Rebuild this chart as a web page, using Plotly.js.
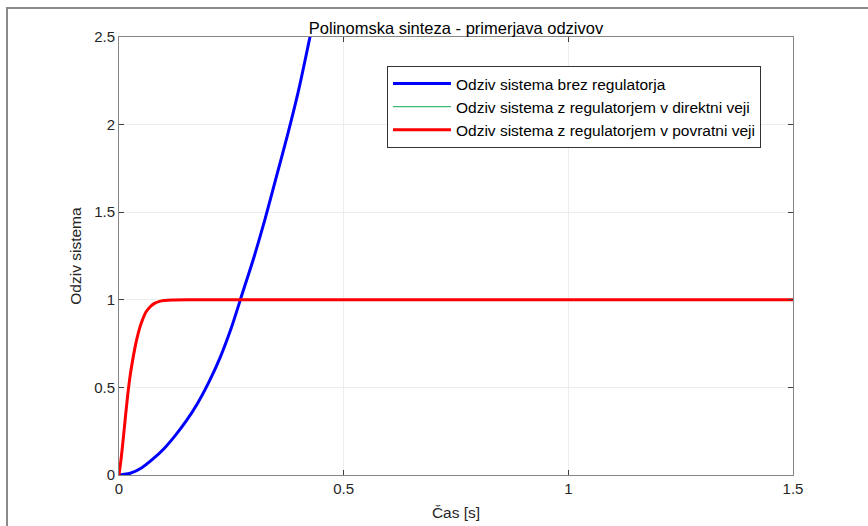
<!DOCTYPE html>
<html><head><meta charset="utf-8">
<script src="https://cdn.plot.ly/plotly-3.0.1.min.js"></script>
<style>
html,body{margin:0;padding:0;background:#fff;overflow:hidden}
#frame{position:absolute;left:6px;top:7px;width:880px;height:540px;border-top:2px solid #8a8a8a;border-left:2px solid #8a8a8a;pointer-events:none}
</style>
</head><body>
<div id="chart" style="width:868px;height:526px"></div>
<div id="frame"></div>
<script>
// Blue: response without controller
var tBlue = [0, 0.025, 0.05, 0.075, 0.1, 0.125, 0.15, 0.175, 0.2, 0.225, 0.25, 0.275, 0.3, 0.325, 0.35, 0.375, 0.4, 0.425, 0.45];
var yBlue = [0, 0.01, 0.04, 0.09, 0.15, 0.225, 0.31, 0.41, 0.53, 0.67, 0.84, 1.04, 1.24, 1.46, 1.7, 1.94, 2.2, 2.5, 2.8];
// Green: controller in forward path (hidden under red)
var tGreen = [0, 0.005, 0.01, 0.015, 0.02, 0.025, 0.03, 0.035, 0.04, 0.045, 0.05, 0.06, 0.07, 0.08, 0.09, 0.1, 0.12, 0.15, 0.2, 0.5, 1.0, 1.5];
var yGreen = [0, 0.1, 0.22, 0.35, 0.47, 0.57, 0.65, 0.72, 0.78, 0.83, 0.87, 0.93, 0.962, 0.981, 0.991, 0.996, 0.999, 1.0, 1.0, 1.0, 1.0, 1.0];
// Red: controller in feedback path
var tRed = [0, 0.005, 0.01, 0.015, 0.02, 0.025, 0.03, 0.035, 0.04, 0.045, 0.05, 0.06, 0.07, 0.08, 0.09, 0.1, 0.12, 0.15, 0.2, 0.5, 1.0, 1.5];
var yRed = [0, 0.1, 0.22, 0.35, 0.47, 0.57, 0.65, 0.72, 0.78, 0.83, 0.87, 0.93, 0.962, 0.981, 0.991, 0.996, 0.999, 1.0, 1.0, 1.0, 1.0, 1.0];

var names = ['Odziv sistema brez regulatorja', 'Odziv sistema z regulatorjem v direktni veji', 'Odziv sistema z regulatorjem v povratni veji'];
var xTicks = [0, 0.5, 1, 1.5];
var xTickText = ['0', '0.5', '1', '1.5'];
var yTicks = [0, 0.5, 1, 1.5, 2, 2.5];
var yTickText = ['0', '0.5', '1', '1.5', '2', '2.5'];

var font = 'Liberation Sans, Arial, Helvetica, sans-serif';

var traces = [
  {x: tBlue, y: yBlue, name: names[0], mode: 'lines', line: {color: '#0000ff', width: 3, shape: 'spline', smoothing: 0.8}},
  {x: tGreen, y: yGreen, name: names[1], mode: 'lines', line: {color: '#3cb878', width: 1.2, shape: 'spline', smoothing: 0.6}},
  {x: tRed, y: yRed, name: names[2], mode: 'lines', line: {color: '#ff0000', width: 3, shape: 'spline', smoothing: 0.6}}
];

var axisCommon = {
  showline: true, linecolor: '#858585', linewidth: 1, mirror: 'ticks',
  ticks: 'inside', ticklen: 5, tickcolor: '#404040', tickwidth: 1,
  showgrid: true, gridcolor: '#ededed', gridwidth: 1, zeroline: false,
  tickfont: {family: font, size: 15, color: '#262626'}
};

var layout = {
  width: 868, height: 526,
  paper_bgcolor: '#ffffff', plot_bgcolor: '#ffffff',
  margin: {l: 119, r: 75, t: 37, b: 51},
  title: {text: 'Polinomska sinteza - primerjava odzivov', font: {family: font, size: 16.5, color: '#000'}, x: 0.5, xanchor: 'center', xref: 'paper', y: 1, yref: 'paper', yanchor: 'bottom', pad: {b: 3}},
  xaxis: Object.assign({}, axisCommon, {range: [0, 1.5], tickmode: 'array', tickvals: xTicks, ticktext: xTickText,
    title: {text: 'Čas [s]', font: {family: font, size: 15.5, color: '#262626'}, standoff: 11}}),
  yaxis: Object.assign({}, axisCommon, {range: [0, 2.5], tickmode: 'array', tickvals: yTicks, ticktext: yTickText,
    title: {text: 'Odziv sistema', font: {family: font, size: 15.5, color: '#262626'}, standoff: 8}}),
  showlegend: true,
  legend: {x: 0.3976, y: 0.934, xanchor: 'left', yanchor: 'top', bgcolor: '#ffffff', bordercolor: '#333333', borderwidth: 1,
    itemwidth: 58, font: {family: font, size: 15.5, color: '#000'}},
  hovermode: false
};

Plotly.newPlot('chart', traces, layout, {staticPlot: true, displayModeBar: false});
</script>
</body></html>
